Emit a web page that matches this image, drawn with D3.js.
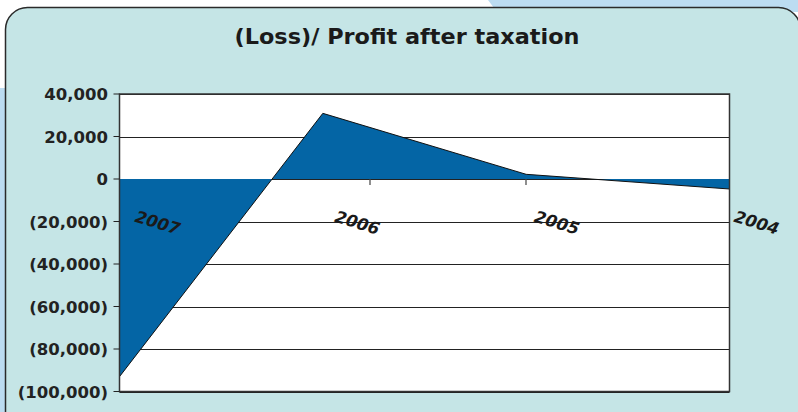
<!DOCTYPE html>
<html>
<head>
<meta charset="utf-8">
<script src="https://cdn.jsdelivr.net/npm/d3@7"></script>
<style>
  body { margin: 0; background: #fff; }
  svg { display: block; }
</style>
</head>
<body>
<script>
// values
const years = ["2007", "2006", "2005", "2004"];
const profit = [-93000, 30900, 2200, -4700];
const yTicks = [40000, 20000, 0, -20000, -40000, -60000, -80000, -100000];
const title = "(Loss)/ Profit after taxation";

const width = 798;
const height = 412;
const plot = { left: 119.5, right: 729.5, top: 94, bottom: 391.5 };
const font = "'DejaVu Sans', Verdana, sans-serif";

const svg = d3.select("body").append("svg")
  .attr("width", width)
  .attr("height", height);

// background bits behind the rounded panel
svg.append("path")
  .attr("d", "M488,0 L798,0 L798,12 L497,12 Z")
  .attr("fill", "#bcdcf1");
svg.append("rect")
  .attr("x", 0).attr("y", 88).attr("width", 10).attr("height", height)
  .attr("fill", "#bcdcf1");

svg.append("rect")
  .attr("x", 5.5).attr("y", 7.5)
  .attr("width", 795).attr("height", 430)
  .attr("rx", 22)
  .attr("fill", "#c5e5e6")
  .attr("stroke", "#2a2a2a")
  .attr("stroke-width", 1.5);

svg.append("text")
  .attr("x", 407).attr("y", 43.5)
  .attr("text-anchor", "middle")
  .attr("textLength", 345)
  .attr("lengthAdjust", "spacingAndGlyphs")
  .style("font", `bold 21.5px ${font}`)
  .attr("fill", "#1a1a1a")
  .text(title);

const x = d3.scalePoint().domain(years).range([plot.left, plot.right]);
const xTick = d3.scalePoint().domain(years).range([214, 682]);
const xLabel = d3.scalePoint().domain(years).range([134, 733]);
const y = d3.scaleLinear().domain([-100000, 40000]).range([plot.bottom, plot.top]);

svg.append("rect")
  .attr("x", plot.left).attr("y", plot.top)
  .attr("width", plot.right - plot.left).attr("height", plot.bottom - plot.top)
  .attr("fill", "#fff");

// gridlines
svg.append("g")
  .selectAll("line")
  .data(yTicks)
  .join("line")
  .attr("x1", plot.left).attr("x2", plot.right)
  .attr("y1", (d) => Math.round(y(d)) + 0.5)
  .attr("y2", (d) => Math.round(y(d)) + 0.5)
  .attr("stroke", "#222")
  .attr("stroke-width", 1);

// category ticks hang below the zero line
svg.append("g")
  .selectAll("line")
  .data(years)
  .join("line")
  .attr("x1", (d) => xTick(d)).attr("x2", (d) => xTick(d))
  .attr("y1", y(0)).attr("y2", y(0) + 6)
  .attr("stroke", "#444")
  .attr("stroke-width", 1.2);

const pts = years.map((yr, i) => [x(yr), y(profit[i])]);

svg.append("path")
  .attr("d", d3.area().x((d) => d[0]).y0(y(0)).y1((d) => d[1])(pts))
  .attr("fill", "#0465a5");

svg.append("path")
  .attr("d", d3.line()(pts))
  .attr("fill", "none")
  .attr("stroke", "#111")
  .attr("stroke-width", 1);

// plot frame
svg.append("rect")
  .attr("x", plot.left).attr("y", plot.top)
  .attr("width", plot.right - plot.left).attr("height", plot.bottom - plot.top)
  .attr("fill", "none")
  .attr("stroke", "#333")
  .attr("stroke-width", 1.5);

// y axis labels and ticks
const yAxis = svg.append("g");
yAxis.selectAll("line")
  .data(yTicks)
  .join("line")
  .attr("x1", plot.left - 6).attr("x2", plot.left)
  .attr("y1", (d) => y(d)).attr("y2", (d) => y(d))
  .attr("stroke", "#222");
yAxis.selectAll("text")
  .data(yTicks)
  .join("text")
  .attr("x", 108)
  .attr("y", (d) => y(d) + 6)
  .attr("text-anchor", "end")
  .style("font", `bold 16.5px ${font}`)
  .attr("fill", "#222")
  .text((d) => (d < 0 ? "(" + d3.format(",")(-d) + ")" : d3.format(",")(d)));

// slanted year labels
svg.append("g")
  .selectAll("text")
  .data(years)
  .join("text")
  .attr("transform", (d) => `translate(${xLabel(d)},${y(-20000)}) rotate(17)`)
  .style("font", `oblique bold 16.5px ${font}`)
  .attr("fill", "#1a1a1a")
  .text((d) => d);
</script>
</body>
</html>
